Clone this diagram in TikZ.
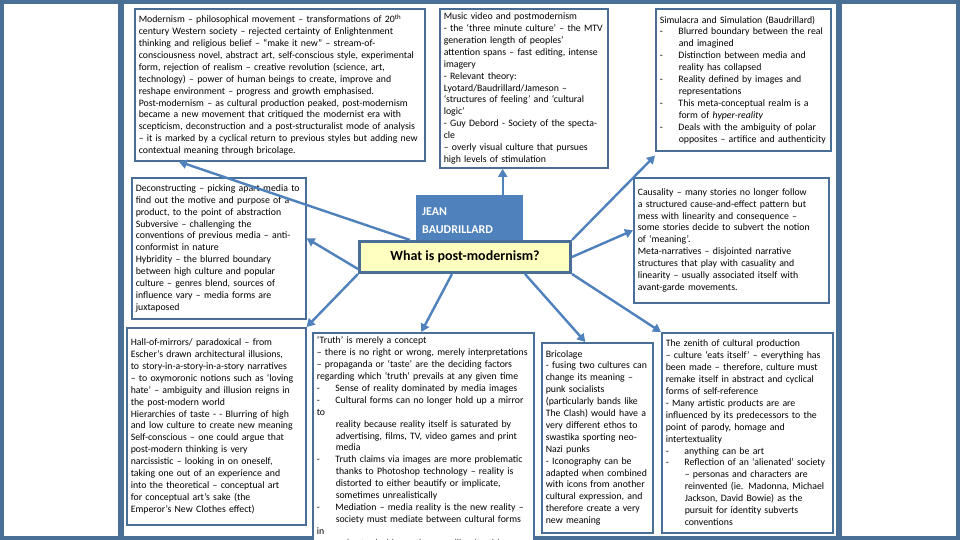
\documentclass[tikz,border=0pt]{standalone}
\usepackage{fontspec}
\setmainfont{Carlito}
\usetikzlibrary{arrows.meta}
\definecolor{framecol}{RGB}{74,111,150}
\definecolor{arrowcol}{RGB}{79,129,189}
\definecolor{titlefill}{RGB}{255,255,192}
\newcommand{\ind}{\hspace*{1.6em}}
\tikzset{
  textbox/.style={draw=framecol,line width=1.6pt,fill=white,anchor=north west,
    align=left,inner sep=4pt,font=\fontsize{9.8}{11.9}\selectfont},
  link/.style={draw=arrowcol,line width=2.4pt,-{Triangle[length=8pt,width=9pt]}}
}
\begin{document}
\begin{tikzpicture}[x=1pt,y=-1pt]
% background and panels
\fill[framecol] (0,0) rectangle (960,540);
\fill[white] (4,4) rectangle (118,536);
\fill[white] (124,4) rectangle (836,536);
\fill[white] (842,4) rectangle (956,536);
\useasboundingbox (0,0) rectangle (960,540);
% outer boxes
\node[textbox,minimum width=290pt,minimum height=152pt,text width=282pt] (modern) at (134,8)
 {Modernism -- philosophical movement -- transformations of 20\textsuperscript{th}\\
 century Western society -- rejected certainty of Enlightenment\\
 thinking and religious belief -- ``make it new'' -- stream-of-\\
 consciousness novel, abstract art, self-conscious style, experimental\\
 form, rejection of realism -- creative revolution (science, art,\\
 technology) -- power of human beings to create, improve and\\
 reshape environment -- progress and growth emphasised.\\
 Post-modernism -- as cultural production peaked, post-modernism\\
 became a new movement that critiqued the modernist era with\\
 scepticism, deconstruction and a post-structuralist mode of analysis\\
 -- it is marked by a cyclical return to previous styles but adding new\\
 contextual meaning through bricolage.};
\node[textbox,minimum width=168pt,minimum height=152pt,text width=160pt] (music) at (439,8)
 {Music video and postmodernism\\
 - the `three minute culture' -- the MTV\\
 generation length of peoples'\\
 attention spans -- fast editing, intense\\
 imagery\\
 - Relevant theory:\\
 Lyotard/Baudrillard/Jameson --\\
 `structures of feeling' and `cultural\\
 logic'\\
 - Guy Debord - Society of the spectacle\\
 -- overly visual culture that pursues\\
 high levels of stimulation};
\node[textbox,minimum width=175pt,minimum height=142pt,text width=167pt] (simul) at (655,8)
 {Simulacra and Simulation (Baudrillard)\\
 -\ind Blurred boundary between the real\\
 \ind\ and imagined\\
 -\ind Distinction between media and\\
 \ind\ reality has collapsed\\
 -\ind Reality defined by images and\\
 \ind\ representations\\
 -\ind This meta-conceptual realm is a\\
 \ind\ form of \textit{hyper-reality}\\
 -\ind Deals with the ambiguity of polar\\
 \ind\ opposites -- artifice and authenticity};
\node[textbox,minimum width=174pt,minimum height=141pt,text width=166pt] (decon) at (131,177)
 {Deconstructing -- picking apart media to\\
 find out the motive and purpose of a\\
 product, to the point of abstraction\\
 Subversive -- challenging the\\
 conventions of previous media -- anti-\\
 conformist in nature\\
 Hybridity -- the blurred boundary\\
 between high culture and popular\\
 culture -- genres blend, sources of\\
 influence vary -- media forms are\\
 juxtaposed};
\node[textbox,minimum width=195pt,minimum height=125pt,text width=187pt] (causal) at (633,177)
 {Causality -- many stories no longer follow\\
 a structured cause-and-effect pattern but\\
 mess with linearity and consequence --\\
 some stories decide to subvert the notion\\
 of `meaning'.\\
 Meta-narratives -- disjointed narrative\\
 structures that play with casuality and\\
 linearity -- usually associated itself with\\
 avant-garde movements.};
\node[textbox,minimum width=179pt,minimum height=197pt,text width=171pt] (mirror) at (126,327)
 {Hall-of-mirrors/ paradoxical -- from\\
 Escher's drawn architectural illusions,\\
 to story-in-a-story-in-a-story narratives\\
 -- to oxymoronic notions such as `loving\\
 hate' -- ambiguity and illusion reigns in\\
 the post-modern world\\
 Hierarchies of taste - - Blurring of high\\
 and low culture to create new meaning\\
 Self-conscious -- one could argue that\\
 post-modern thinking is very\\
 narcissistic -- looking in on oneself,\\
 taking one out of an experience and\\
 into the theoretical -- conceptual art\\
 for conceptual art's sake (the\\
 Emperor's New Clothes effect)};
\node[textbox,minimum width=221pt,minimum height=200pt,text width=213pt] (truth) at (312,332)
 {`Truth' is merely a concept\\
 -- there is no right or wrong, merely interpretations\\
 -- propaganda or `taste' are the deciding factors\\
 regarding which `truth' prevails at any given time\\
 -\ind Sense of reality dominated by media images\\
 -\ind Cultural forms can no longer hold up a mirror to\\
 \ind\ reality because reality itself is saturated by\\
 \ind\ advertising, films, TV, video games and print\\
 \ind\ media\\
 -\ind Truth claims via images are more problematic\\
 \ind\ thanks to Photoshop technology -- reality is\\
 \ind\ distorted to either beautify or implicate,\\
 \ind\ sometimes unrealistically\\
 -\ind Mediation -- media reality is the new reality --\\
 \ind\ society must mediate between cultural forms in\\
 \ind\ order to decide on the prevailing `truth'};
\node[textbox,minimum width=111pt,minimum height=190pt,text width=103pt] (bricol) at (541,342)
 {Bricolage\\
 - fusing two cultures can\\
 change its meaning --\\
 punk socialists\\
 (particularly bands like\\
 The Clash) would have a\\
 very different ethos to\\
 swastika sporting neo-\\
 Nazi punks\\
 - Iconography can be\\
 adapted when combined\\
 with icons from another\\
 cultural expression, and\\
 therefore create a very\\
 new meaning};
\node[textbox,minimum width=171pt,minimum height=200pt,text width=163pt] (zenith) at (661,332)
 {The zenith of cultural production\\
 -- culture `eats itself' -- everything has\\
 been made -- therefore, culture must\\
 remake itself in abstract and cyclical\\
 forms of self-reference\\
 - Many artistic products are are\\
 influenced by its predecessors to the\\
 point of parody, homage and\\
 intertextuality\\
 -\ind anything can be art\\
 -\ind Reflection of an `alienated' society\\
 \ind\ -- personas and characters are\\
 \ind\ reinvented (ie. Madonna, Michael\\
 \ind\ Jackson, David Bowie) as the\\
 \ind\ pursuit for identity subverts\\
 \ind\ conventions};
% centre
\node[fill=arrowcol,anchor=north west,minimum width=107pt,minimum height=50pt,
  align=left,text=white,font=\bfseries\fontsize{12}{18}\selectfont,inner sep=6pt,
  text width=95pt] (jean) at (416,195) {JEAN\\BAUDRILLARD\\[-4pt]};
\node[draw=framecol,line width=3pt,fill=titlefill,minimum width=211pt,minimum height=31pt,
  font=\bfseries\fontsize{14}{16}\selectfont] (title) at (465,257) {What is post-modernism?};
% connectors
\coordinate (tnw) at ([xshift=52pt]title.north west);
\draw[link] (tnw) -- ([xshift=-101pt]modern.south);
\coordinate (jtop) at ([xshift=33pt]jean.north);
\draw[link] (jtop) -- (jtop |- music.south);
\draw[link] (title.north east) -- ([yshift=-4pt]simul.south west);
\coordinate (tw) at ([yshift=-12pt]title.west);
\draw[link] (tw) -- ([yshift=10pt]decon.east);
\draw[link] (title.east) -- ([yshift=10pt]causal.west);
\draw[link] (title.south west) -- (mirror.north east);
\coordinate (ts) at ([xshift=-13pt]title.south);
\draw[link] (ts) -- ([xshift=-2pt]truth.north);
\coordinate (tr) at ([xshift=60pt]title.south);
\draw[link] (tr) -- ([xshift=-12pt]bricol.north);
\draw[link] (title.south east) -- (zenith.north west);
\end{tikzpicture}
\end{document}
